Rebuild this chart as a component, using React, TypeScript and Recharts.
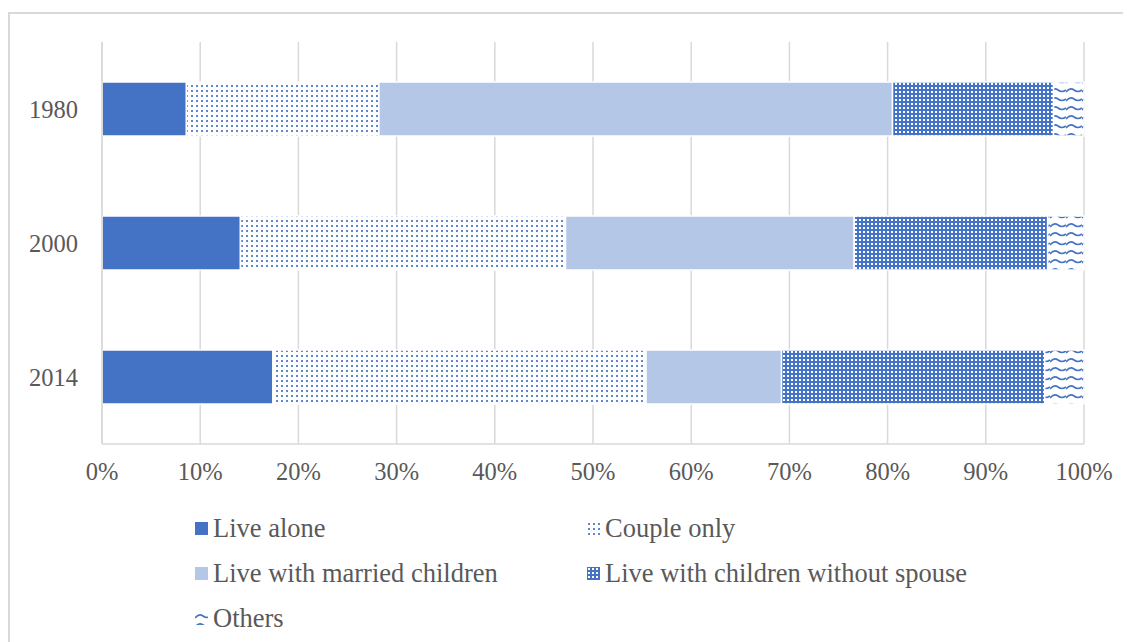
import React from 'react';
import { BarChart, Bar, XAxis, YAxis, CartesianGrid } from 'recharts';

const years = ['1980', '2000', '2014'];
const liveAlone = [8.6, 14.1, 17.4];
const coupleOnly = [19.6, 33.1, 38.0];
const marriedChildren = [52.3, 29.4, 13.8];
const childrenNoSpouse = [16.4, 19.7, 26.8];
const others = [3.1, 3.7, 4.0];
const xTicks = [0, 10, 20, 30, 40, 50, 60, 70, 80, 90, 100];

const data = years.map((year, i) => ({
  year,
  liveAlone: liveAlone[i],
  coupleOnly: coupleOnly[i],
  marriedChildren: marriedChildren[i],
  childrenNoSpouse: childrenNoSpouse[i],
  others: others[i],
}));

const BLUE = '#4472C4';
const LIGHT = '#B4C7E7';
const TEXT = '#595959';
const FONT = '"Liberation Serif", "Times New Roman", serif';

const Patterns = ({ prefix }: { prefix: string }) => (
  <defs>
    <pattern id={`${prefix}-dots`} width="5" height="5" patternUnits="userSpaceOnUse">
      <rect width="5" height="5" fill="#fff" />
      <rect x="1" y="1" width="2" height="2" fill={BLUE} fillOpacity={0.85} />
    </pattern>
    <pattern id={`${prefix}-grid`} width="4" height="4" patternUnits="userSpaceOnUse">
      <rect width="4" height="4" fill={BLUE} />
      <rect x="1" y="1" width="2" height="2" fill="#fff" />
    </pattern>
    <pattern id={`${prefix}-wave`} width="16" height="9" patternUnits="userSpaceOnUse">
      <rect width="16" height="9" fill="#fff" />
      <path d="M0 6 Q4 1 8 4 T16 4" fill="none" stroke={BLUE} strokeWidth="1.6" />
    </pattern>
  </defs>
);

const series = [
  { key: 'liveAlone', name: 'Live alone', fill: () => BLUE },
  { key: 'coupleOnly', name: 'Couple only', fill: (p: string) => `url(#${p}-dots)` },
  { key: 'marriedChildren', name: 'Live with married children', fill: () => LIGHT },
  { key: 'childrenNoSpouse', name: 'Live with children without spouse', fill: (p: string) => `url(#${p}-grid)` },
  { key: 'others', name: 'Others', fill: (p: string) => `url(#${p}-wave)` },
];

const LegendBox = () => (
  <div
    style={{
      display: 'grid',
      gridTemplateColumns: '392px 420px',
      rowGap: 19,
      marginLeft: 185,
      fontFamily: FONT,
      fontSize: 26.5,
      color: TEXT,
      lineHeight: '26px',
    }}
  >
    {series.map((s, i) => (
      <div key={s.key} style={{ display: 'flex', alignItems: 'center' }}>
        <svg width={13} height={13} style={{ marginRight: 5 }}>
          <Patterns prefix={`lg${i}`} />
          <rect width={13} height={13} fill={s.fill(`lg${i}`)} />
        </svg>
        <span>{s.name}</span>
      </div>
    ))}
  </div>
);

export default function App() {
  return (
    <div
      style={{
        marginTop: 4,
        width: 1123,
        height: 640,
        borderTop: '2px solid #d9d9d9',
        borderLeft: '2px solid #d9d9d9',
        boxSizing: 'border-box',
        position: 'relative',
      }}
    >
      <BarChart
        width={1121}
        height={500}
        data={data}
        layout="vertical"
        margin={{ top: 28, right: 47, left: 0, bottom: 20 }}
        style={{ fontFamily: FONT }}
      >
        <Patterns prefix="bar" />
        <CartesianGrid horizontal={false} stroke="#d9d9d9" strokeWidth={1.5} />
        <XAxis
          type="number"
          domain={[0, 100]}
          ticks={xTicks}
          tickFormatter={(v) => `${v}%`}
          tickLine={false}
          tickSize={0}
          tickMargin={19}
          height={50}
          axisLine={{ stroke: '#d9d9d9', strokeWidth: 1.5 }}
          tick={{ fill: TEXT, fontSize: 24.5, fontFamily: FONT }}
          interval={0}
        />
        <YAxis
          type="category"
          dataKey="year"
          width={92}
          tickLine={false}
          tickSize={0}
          tickMargin={24}
          axisLine={{ stroke: '#d9d9d9', strokeWidth: 1.5 }}
          tick={{ fill: TEXT, fontSize: 24.5, fontFamily: FONT }}
        />
        {series.map((s) => (
          <Bar
            key={s.key}
            dataKey={s.key}
            name={s.name}
            stackId="a"
            fill={s.fill('bar')}
            stroke="#fff"
            strokeWidth={1.5}
            barSize={54}
            isAnimationActive={false}
          />
        ))}
      </BarChart>
      <div style={{ position: 'absolute', top: 501, left: 0 }}>
        <LegendBox />
      </div>
    </div>
  );
}
